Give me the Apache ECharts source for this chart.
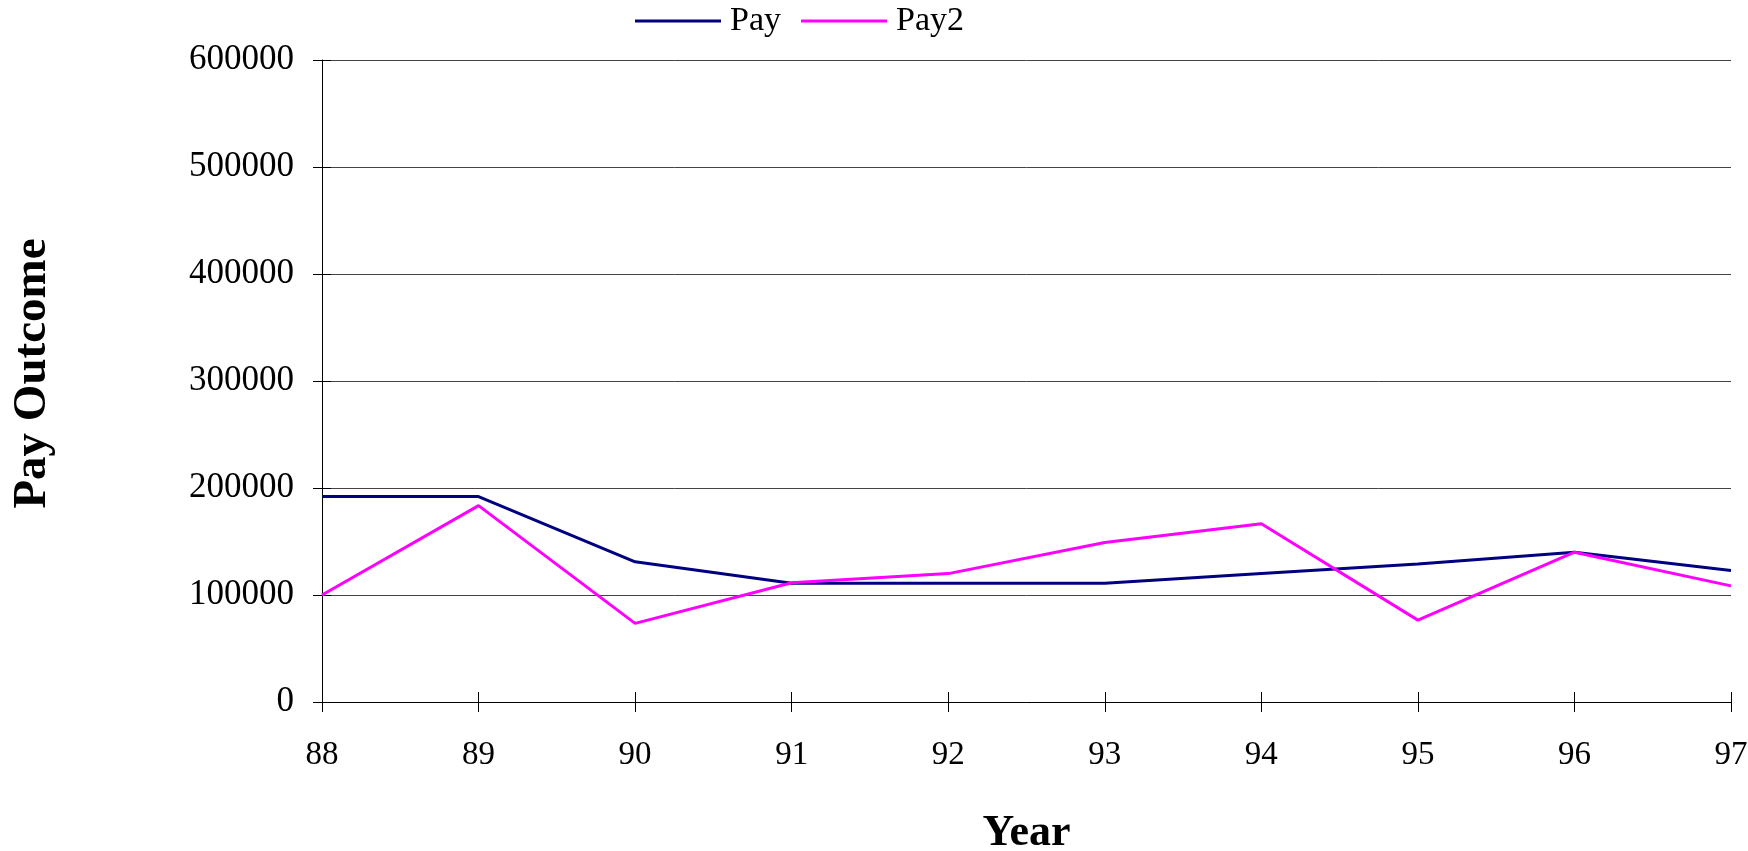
<!DOCTYPE html>
<html>
<head>
<meta charset="utf-8">
<script src="https://cdn.jsdelivr.net/npm/echarts@6/dist/echarts.min.js"></script>
<style>html,body{margin:0;padding:0;background:#fff}#c{width:1748px;height:851px}</style>
</head>
<body>
<div id="c"></div>
<script>
const years = ['88','89','90','91','92','93','94','95','96','97'];
const pay  = [192000,192000,131000,111000,111000,111000,120000,129000,140000,123000];
const pay2 = [100000,183500,73500,111500,120000,149000,166500,76500,140000,108500];
const yTicks = [0,100000,200000,300000,400000,500000,600000];

const font = 'Liberation Serif';
const chart = echarts.init(document.getElementById('c'));
chart.setOption({
  backgroundColor:'#fff',
  animation:false,
  textStyle:{fontFamily:font},
  legend:{
    top:-1, left:630,
    icon:'rect',
    itemWidth:86, itemHeight:3, itemGap:20,
    textStyle:{fontFamily:font, fontSize:34, color:'#000', padding:[0,0,0,4]},
    data:['Pay','Pay2']
  },
  grid:{left:322, right:17, top:60, bottom:149, outerBoundsMode:'none', containLabel:false},
  xAxis:[{
    type:'category', data:years, boundaryGap:false,
    name:'Year', nameLocation:'middle', nameGap:110,
    nameTextStyle:{fontFamily:font, fontSize:44, fontWeight:'bold', color:'#000'},
    axisLine:{lineStyle:{color:'#000', width:1}},
    axisTick:{show:true, length:10, lineStyle:{color:'#000'}},
    axisLabel:{fontFamily:font, fontSize:33, color:'#000', margin:37},
    splitLine:{show:false}
  },{
    type:'category', data:years, boundaryGap:false, position:'bottom',
    axisLine:{show:false},
    axisTick:{show:true, inside:true, length:10, lineStyle:{color:'#000'}},
    axisLabel:{show:false}, splitLine:{show:false}
  }],
  yAxis:[{
    type:'value', min:yTicks[0], max:yTicks[yTicks.length-1], interval:100000,
    name:'Pay Outcome', nameLocation:'middle', nameGap:266, nameRotate:90,
    nameTextStyle:{fontFamily:font, fontSize:47, fontWeight:'bold', color:'#000', padding:[0,0,0,15]},
    axisLine:{show:true, lineStyle:{color:'#000', width:1}},
    axisTick:{show:true, length:9, lineStyle:{color:'#000'}},
    axisLabel:{fontFamily:font, fontSize:35, color:'#000', margin:28, formatter:function(v){return String(v);}},
    splitLine:{show:true, lineStyle:{color:'#444', width:1}}
  },{
    type:'value', min:yTicks[0], max:yTicks[yTicks.length-1], interval:100000, position:'left',
    axisLine:{show:false},
    axisTick:{show:true, inside:true, length:9, lineStyle:{color:'#000'}},
    axisLabel:{show:false}, splitLine:{show:false}
  }],
  series:[
    {name:'Pay', type:'line', data:pay, symbol:'none', lineStyle:{color:'#000080', width:3}, itemStyle:{color:'#000080'}},
    {name:'Pay2', type:'line', data:pay2, symbol:'none', lineStyle:{color:'#FF00FF', width:3}, itemStyle:{color:'#FF00FF'}}
  ]
});
</script>
</body>
</html>
